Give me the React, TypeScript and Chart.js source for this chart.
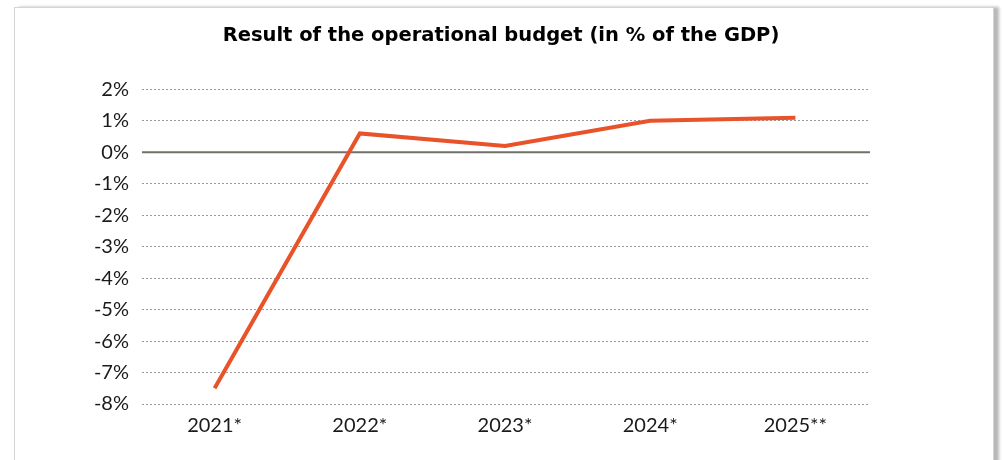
import React, { useEffect, useRef } from "react";
import { Chart, registerables } from "chart.js";

Chart.register(...registerables);

const categories = ["2021*", "2022*", "2023*", "2024*", "2025**"];
const budgetResult = [-7.5, 0.6, 0.2, 1.0, 1.1];
const yMin = -8;
const yMax = 2;
const titleText = "Result of the operational budget (in % of the GDP)";

const zeroLinePlugin = {
  id: "zeroLine",
  beforeDatasetsDraw(chart: any) {
    const { ctx, chartArea, scales } = chart;
    const y = scales.y.getPixelForValue(0);
    ctx.save();
    ctx.strokeStyle = "#707068";
    ctx.lineWidth = 2;
    ctx.beginPath();
    ctx.moveTo(chartArea.left, y);
    ctx.lineTo(chartArea.right + 2, y);
    ctx.stroke();
    ctx.restore();
  },
};

export default function App() {
  const ref = useRef<HTMLCanvasElement>(null);
  useEffect(() => {
    if (!ref.current) return;
    const chart = new Chart(ref.current, {
      type: "line",
      data: {
        labels: categories,
        datasets: [
          {
            data: budgetResult,
            borderColor: "#E9532A",
            borderWidth: 4,
            pointRadius: 0,
            tension: 0,
            fill: false,
            yAxisID: "y",
          },
        ],
      },
      plugins: [zeroLinePlugin],
      options: {
        animation: false,
        responsive: false,
        maintainAspectRatio: false,
        layout: { padding: { left: 0, right: 0, top: 0, bottom: 12 } },
        plugins: {
          legend: { display: false },
          tooltip: { enabled: false },
          title: {
            display: true,
            text: titleText,
            color: "#000000",
            font: { family: "DejaVu Sans", size: 19.5, weight: "bold", lineHeight: 1.2 },
            padding: { top: 24, bottom: 42 },
          },
        },
        scales: {
          x: {
            offset: true,
            grid: { display: false, drawTicks: false },
            border: { display: false },
            ticks: {
              color: "#1a1a1a",
              font: { family: "Lato", size: 20, lineHeight: 1.2 },
              padding: 10,
              maxRotation: 0,
            },
          },
          y: {
            min: yMin,
            max: yMax,
            afterFit(scale: any) {
              scale.width = 142;
            },
            grid: {
              drawTicks: false,
              color: (ctx: any) => (ctx.tick && ctx.tick.value === 0 ? "rgba(0,0,0,0)" : "#9a9a9a"),
              lineWidth: 1,
            },
            border: { display: false, dash: [2, 2] },
            ticks: {
              stepSize: 1,
              color: "#1a1a1a",
              font: { family: "Lato", size: 20, lineHeight: 1.2 },
              padding: 13,
              callback: (v: any) => `${v}%`,
            },
          },
          yRight: {
            position: "right",
            min: yMin,
            max: yMax,
            afterFit(scale: any) {
              scale.width = 134;
            },
            grid: { display: false, drawTicks: false },
            border: { display: false },
            ticks: { display: false },
          },
        },
      },
    });
    return () => chart.destroy();
  }, []);

  return (
    <div style={{ position: "absolute", left: 0, top: 0, width: 1002, height: 460, background: "#fff", overflow: "hidden" }}>
      <div
        style={{
          position: "absolute",
          left: 14,
          top: 7,
          width: 978,
          height: 470,
          border: "1px solid #d4d4d4",
          boxShadow: "5px 0 3px #b8b8b8",
          background: "#fff",
        }}
      />
      <canvas ref={ref} width={1002} height={460} style={{ position: "absolute", left: 0, top: 0 }} />
    </div>
  );
}
